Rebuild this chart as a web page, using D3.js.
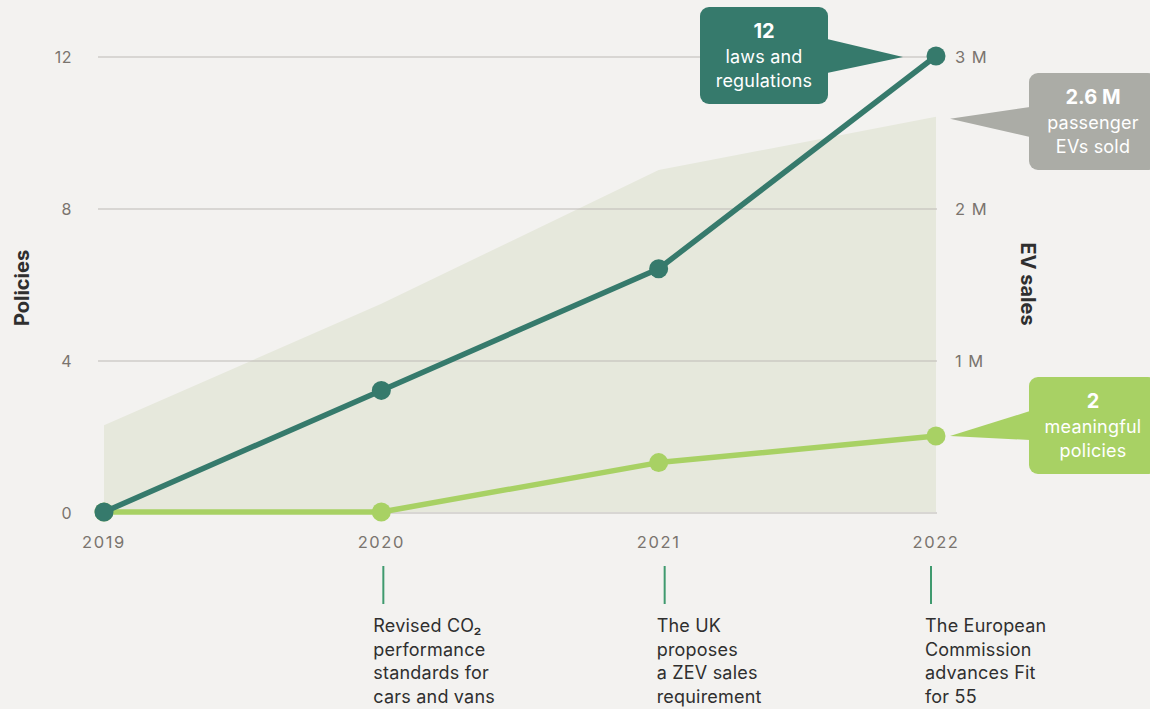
<!DOCTYPE html>
<html>
<head>
<meta charset="utf-8">
<script src="https://cdn.jsdelivr.net/npm/d3@7"></script>
<style>
  html, body { margin: 0; padding: 0; background: #f3f2f0; }
  svg { display: block; font-family: Inter, "Open Sans", sans-serif; }
</style>
</head>
<body>
<svg id="chart" width="1150" height="709"></svg>
<script>
// Years on the x axis
const years = [2019, 2020, 2021, 2022];
// Cumulative laws and regulations
const lawsAndRegulations = [0, 3.2, 6.4, 12];
// Cumulative meaningful policies
const meaningfulPolicies = [0, 0, 1.3, 2];
// Passenger EV sales (millions)
const evSales = [0.57, 1.37, 2.25, 2.6];
// Tick values
const policyTicks = [0, 4, 8, 12];
const salesTicks = [1, 2, 3];
// Milestones shown under the axis
const milestones = [
  { year: 2020, lines: ["Revised CO\u2082", "performance", "standards for", "cars and vans"] },
  { year: 2021, lines: ["The UK", "proposes", "a ZEV sales", "requirement"] },
  { year: 2022, lines: ["The European", "Commission", "advances Fit", "for 55"] }
];

const C = {
  dark: "#367a6c",
  light: "#a8d164",
  area: "#e6e8dc",
  grey: "#abaca6",
  grid: "#bdbab5",
  tick: "#7a746e",
  text: "#2f2f2f",
  mark: "#3f9a6e"
};

const svg = d3.select("#chart");

const x = d3.scaleLinear().domain([2019, 2022]).range([104, 936]);
const y = d3.scaleLinear().domain([0, 12]).range([512, 56]);
const ySales = d3.scaleLinear().domain([0, 3]).range([512, 56]);

// EV sales area
svg.append("path")
  .datum(years.map((yr, i) => ({ yr, v: evSales[i] })))
  .attr("fill", C.area)
  .attr("d", d3.area().x(d => x(d.yr)).y0(ySales(0)).y1(d => ySales(d.v)));

// Gridlines
svg.append("g")
  .selectAll("line")
  .data(policyTicks)
  .join("line")
  .attr("x1", 98).attr("x2", x(2022) + 1)
  .attr("y1", d => y(d) + 1).attr("y2", d => y(d) + 1)
  .attr("stroke", C.grid).attr("stroke-width", 1.2);

// Left axis labels
svg.append("g")
  .selectAll("text")
  .data(policyTicks)
  .join("text")
  .attr("x", 72).attr("y", d => y(d) + 7)
  .attr("text-anchor", "end")
  .attr("font-size", 16).attr("fill", C.tick)
  .attr("letter-spacing", 0.5)
  .text(d => d);

// Right axis labels
svg.append("g")
  .selectAll("text")
  .data(salesTicks)
  .join("text")
  .attr("x", 955).attr("y", d => ySales(d) + 7)
  .attr("font-size", 16.5).attr("fill", C.tick)
  .attr("letter-spacing", 1)
  .text(d => d + " M");

// Year labels
svg.append("g")
  .selectAll("text")
  .data(years)
  .join("text")
  .attr("x", d => x(d)).attr("y", 548)
  .attr("text-anchor", "middle")
  .attr("font-size", 16.5).attr("fill", C.tick)
  .attr("letter-spacing", 1.6)
  .text(d => d);

// Axis titles
svg.append("text")
  .attr("transform", "translate(29,288) rotate(-90)")
  .attr("text-anchor", "middle")
  .attr("font-size", 20).attr("font-weight", 700).attr("fill", C.text)
  .text("Policies");
svg.append("text")
  .attr("transform", "translate(1021,284) rotate(90)")
  .attr("text-anchor", "middle")
  .attr("font-size", 20).attr("font-weight", 700).attr("fill", C.text)
  .text("EV sales");

// Policy lines and dots
const line = d3.line().x(d => x(d.yr)).y(d => y(d.v));
function drawSeries(values, color) {
  const pts = years.map((yr, i) => ({ yr, v: values[i] }));
  svg.append("path").datum(pts)
    .attr("fill", "none").attr("stroke", color)
    .attr("stroke-width", 5.5).attr("stroke-linejoin", "round")
    .attr("d", line);
  svg.append("g").selectAll("circle").data(pts).join("circle")
    .attr("cx", d => x(d.yr)).attr("cy", d => y(d.v)).attr("r", 9.5)
    .attr("fill", color);
}
drawSeries(meaningfulPolicies, C.light);
drawSeries(lawsAndRegulations, C.dark);

// Callout: rounded box with a pointer to the tip
function callout(box, tip, baseY, color, lines) {
  const { x0, y0, w, h, r } = box;
  const g = svg.append("g");
  g.append("rect").attr("x", x0).attr("y", y0).attr("width", w).attr("height", h)
    .attr("rx", r).attr("fill", color);
  const bx = tip[0] < x0 ? x0 + 1 : x0 + w - 1;
  g.append("path")
    .attr("d", `M${bx},${baseY[0]}L${tip[0]},${tip[1]}L${bx},${baseY[1]}Z`)
    .attr("fill", color);
  const cx = x0 + w / 2;
  lines.forEach((t, i) => {
    g.append("text")
      .attr("x", cx).attr("y", y0 + 31 + i * 24.5)
      .attr("text-anchor", "middle")
      .attr("fill", "#ffffff")
      .attr("font-size", i === 0 ? 20 : 18)
      .attr("font-weight", i === 0 ? 700 : 400)
      .attr("letter-spacing", i === 0 ? 0 : 0.2)
      .text(t);
  });
}

const lastLaws = [x(2022), y(lawsAndRegulations[3])];
callout({ x0: 700, y0: 7, w: 128, h: 97, r: 9 },
  [lastLaws[0] - 33, lastLaws[1] + 1], [39, 73], C.dark,
  [String(lawsAndRegulations[3]), "laws and", "regulations"]);

const lastSales = [x(2022), ySales(evSales[3])];
callout({ x0: 1029, y0: 73, w: 128, h: 97, r: 9 },
  [lastSales[0] + 14, lastSales[1] + 2], [107, 137], C.grey,
  [evSales[3] + " M", "passenger", "EVs sold"]);

const lastPol = [x(2022), y(meaningfulPolicies[3])];
callout({ x0: 1029, y0: 377, w: 128, h: 97, r: 9 },
  [lastPol[0] + 14, lastPol[1]], [411, 440], C.light,
  [String(meaningfulPolicies[3]), "meaningful", "policies"]);

// Milestones
const mg = svg.append("g").selectAll("g").data(milestones).join("g");
mg.append("line")
  .attr("x1", d => x(d.year) + (d.year === 2021 ? 6 : d.year === 2022 ? -5 : 2))
  .attr("x2", d => x(d.year) + (d.year === 2021 ? 6 : d.year === 2022 ? -5 : 2))
  .attr("y1", 566).attr("y2", 604)
  .attr("stroke", C.mark).attr("stroke-width", 2);
mg.each(function (d) {
  const lx = x(d.year) + (d.year === 2021 ? -2 : d.year === 2022 ? -11 : -8);
  d3.select(this).selectAll("text").data(d.lines).join("text")
    .attr("x", lx).attr("y", (t, i) => 632 + i * 23.6)
    .attr("font-size", 18).attr("fill", C.text)
    .attr("letter-spacing", 0.2)
    .text(t => t);
});
</script>
</body>
</html>
